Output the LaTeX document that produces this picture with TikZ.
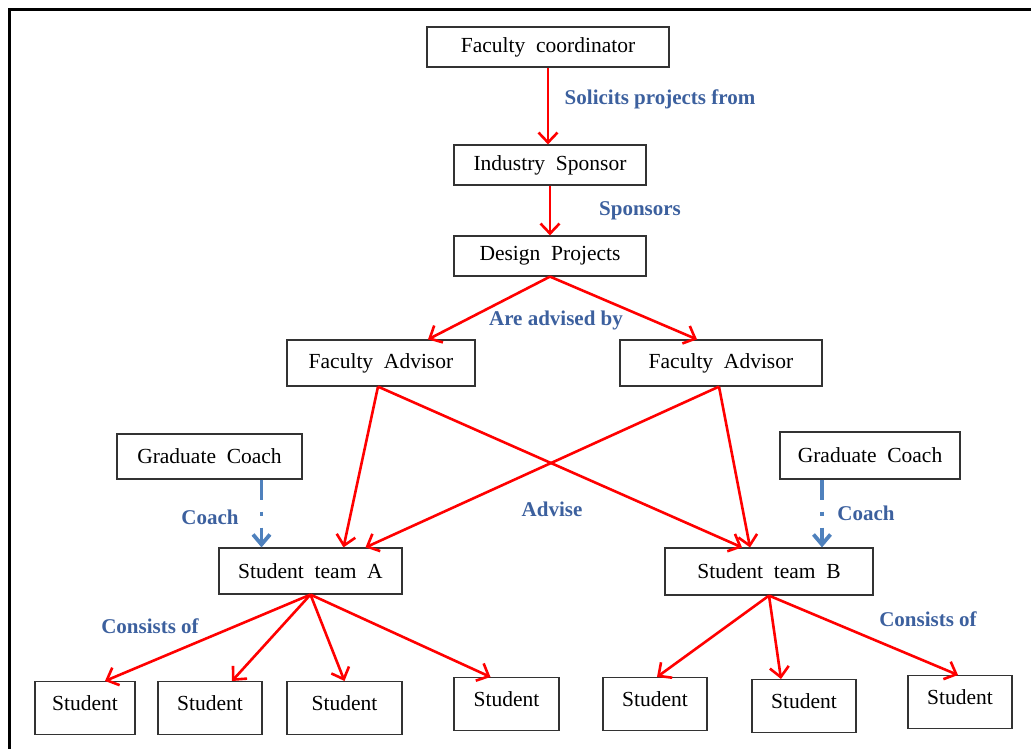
\documentclass[tikz,border=0pt]{standalone}
\usepackage{fontspec}
\setmainfont{Liberation Serif}
\usetikzlibrary{arrows.meta}
\definecolor{linkred}{RGB}{255,0,0}
\definecolor{labelblue}{RGB}{60,96,158}
\definecolor{coachblue}{RGB}{79,129,189}

\begin{document}
\begin{tikzpicture}[x=1pt,y=-1pt, font=\fontsize{21.5}{25}\selectfont,
    box/.style={draw=black!80, line width=1.2pt, inner sep=0pt, minimum height=40pt},
    studentbox/.style={box, anchor=north, minimum height=0pt, text height=29pt, text depth=24pt},
    rel/.style={draw=linkred, line width=2.6pt, -{Straight Barb[length=10pt,width=19pt]}},
    coachrel/.style={draw=coachblue, line width=3.8pt, dash pattern=on 20pt off 12pt on 4pt off 12pt,
      -{Straight Barb[length=10pt,width=17pt]}},
    tag/.style={text=labelblue, font=\fontsize{21}{25}\selectfont\bfseries}]
      \useasboundingbox (0,0) rectangle (1031,748);
      \draw[line width=3pt, line cap=rect] (9,760) -- (9,9) -- (1040,9);

      \node[box, minimum width=242pt] (coord) at (548,47) {Faculty\ \ coordinator};
      \node[box, minimum width=192pt] (sponsor) at (550,165) {Industry\ \ Sponsor};
      \node[box, minimum width=192pt] (design) at (550,256) {Design\ \ Projects};
      \node[box, minimum width=188pt, minimum height=46pt] (advL) at (381,363) {Faculty\ \ Advisor};
      \node[box, minimum width=202pt, minimum height=46pt] (advR) at (721,363) {Faculty\ \ Advisor};
      \node[box, minimum width=185pt, minimum height=45pt] (coachL) at (209.5,456.5) {Graduate\ \ Coach};
      \node[box, minimum width=180pt, minimum height=47pt] (coachR) at (870,455.5) {Graduate\ \ Coach};
      \node[box, minimum width=183pt, minimum height=46pt] (teamA) at (310.5,571) {Student\ \ team\ \ A};
      \node[box, minimum width=208pt, minimum height=47pt] (teamB) at (769,571.5) {Student\ \ team\ \ B};

      \node[studentbox, minimum width=100pt] (stA1) at (85,681) {Student};
      \node[studentbox, minimum width=104pt] (stA2) at (210,681) {Student};
      \node[studentbox, minimum width=115pt] (stA3) at (344.5,681) {Student};
      \node[studentbox, minimum width=105pt] (stA4) at (506.5,677) {Student};
      \node[studentbox, minimum width=104pt] (stB1) at (655,677) {Student};
      \node[studentbox, minimum width=104pt] (stB2) at (804,679) {Student};
      \node[studentbox, minimum width=104pt] (stB3) at (960,675) {Student};

      \draw[rel] (coord.south) -- (coord.south |- sponsor.north);
      \draw[rel] (sponsor.south) -- (design.north);
      \draw[rel] (design.south) -- ([xshift=47pt]advL.north);
      \draw[rel] (design.south) -- ([xshift=-24pt]advR.north);
      \draw[rel] ([xshift=-3pt]advL.south) -- ([xshift=33pt]teamA.north);
      \draw[rel] ([xshift=-3pt]advL.south) -- ([xshift=-27pt]teamB.north);
      \draw[rel] ([xshift=-2pt]advR.south) -- ([xshift=55pt]teamA.north);
      \draw[rel] ([xshift=-2pt]advR.south) -- ([xshift=-19pt]teamB.north);

      \draw[rel] (teamA.south) -- ([xshift=20pt]stA1.north);
      \draw[rel] (teamA.south) -- ([xshift=22pt]stA2.north);
      \draw[rel] (teamA.south) -- (stA3.north);
      \draw[rel] (teamA.south) -- ([xshift=-16pt]stA4.north);
      \draw[rel] (teamB.south) -- ([xshift=2pt]stB1.north);
      \draw[rel] (teamB.south) -- ([xshift=-23pt]stB2.north);
      \draw[rel] (teamB.south) -- ([xshift=-2pt]stB3.north);

      \draw[coachrel] ([xshift=52pt]coachL.south) -- ([xshift=52pt]coachL.south |- teamA.north);
      \draw[coachrel] ([xshift=-48pt]coachR.south) -- ([xshift=-48pt]coachR.south |- teamB.north);

      \node[tag] (lblSolicit) at (660,99) {Solicits projects from};
      \node[tag] (lblSponsor) at (640,211) {Sponsors};
      \node[tag] (lblAdvised) at (556,320) {Are advised by};
      \node[tag] (lblAdvise) at (552,509) {Advise};
      \node[tag] (lblCoachL) at (210,517) {Coach};
      \node[tag] (lblCoachR) at (866,513) {Coach};
      \node[tag] (lblConsistL) at (150,626) {Consists of};
      \node[tag] (lblConsistR) at (928,619) {Consists of};
    \end{tikzpicture}
\end{document}
